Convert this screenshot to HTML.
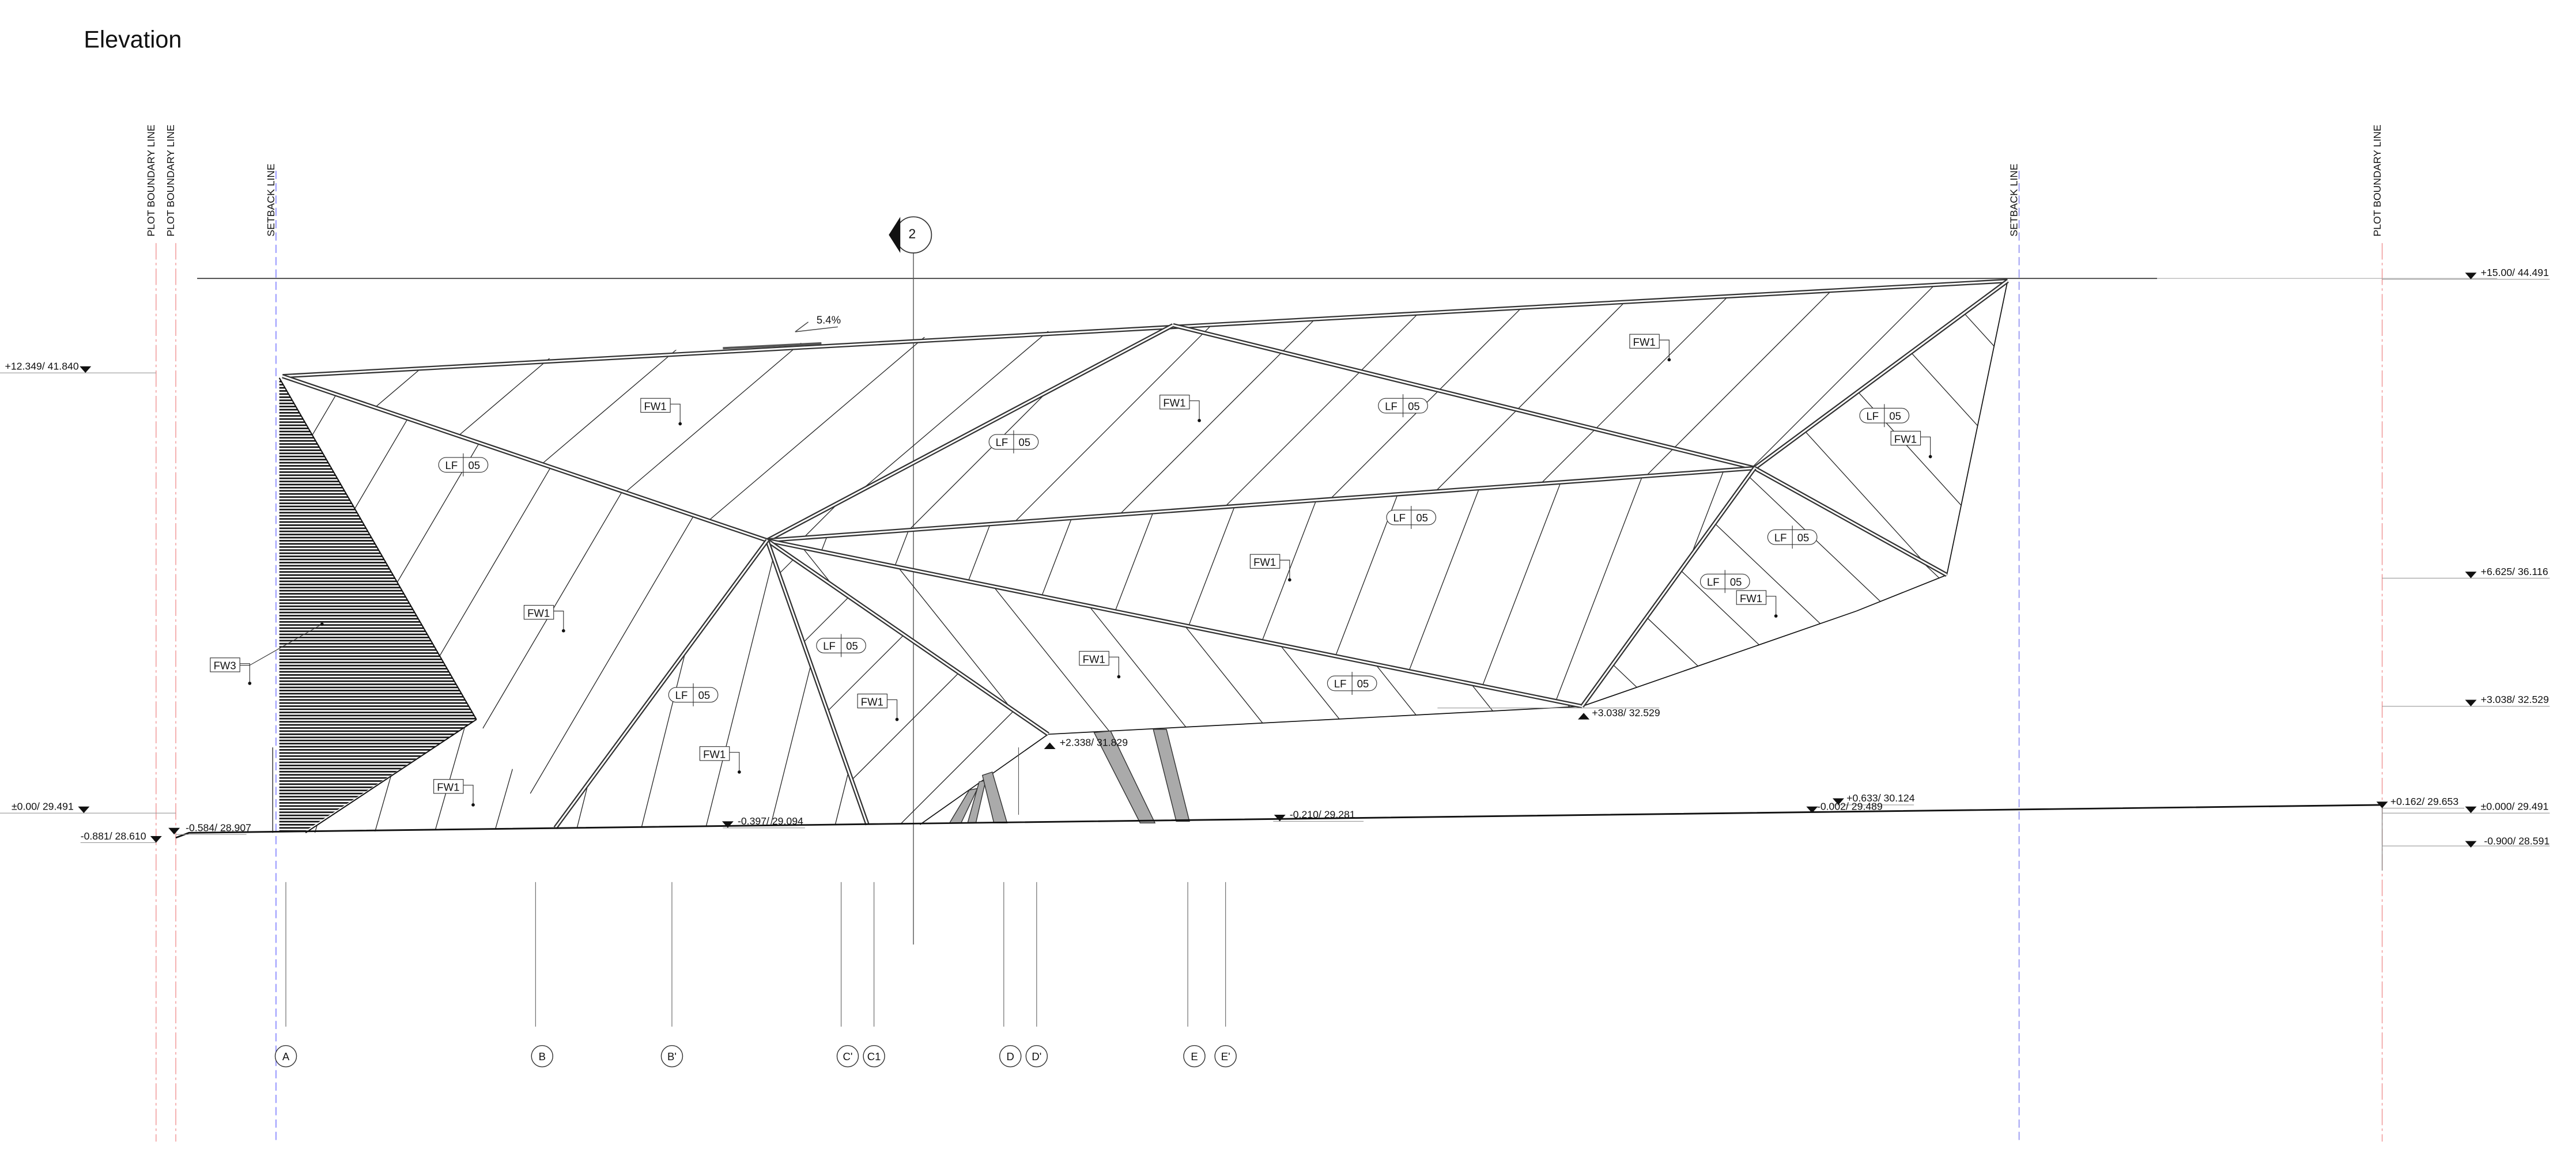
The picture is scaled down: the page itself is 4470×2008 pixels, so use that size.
<!DOCTYPE html>
<html><head><meta charset="utf-8"><style>
html,body{margin:0;padding:0;background:#fff;overflow:hidden;width:4470px;height:2008px;}
svg{display:block;}
text{font-family:"Liberation Sans",sans-serif;fill:#111;}
</style></head><body>
<svg id="s" width="4470" height="2008" viewBox="0 0 1568 704.36" xmlns="http://www.w3.org/2000/svg">
<defs>
<pattern id="hatch" width="4" height="1.9" patternUnits="userSpaceOnUse"><line x1="0" y1="0.5" x2="4" y2="0.5" stroke="#111" stroke-width="0.95"/></pattern>
</defs>
<rect width="1568" height="704" fill="#fff"/>
<text x="51" y="29" font-size="14.5">Elevation</text>

<g stroke-width="0.45" fill="none">
<line x1="95" y1="148" x2="95" y2="695" stroke="#e88" stroke-dasharray="10,2,1.5,2"/>
<line x1="107" y1="148" x2="107" y2="695" stroke="#e88" stroke-dasharray="10,2,1.5,2"/>
<line x1="168" y1="104" x2="168" y2="695" stroke="#6060ff" stroke-dasharray="5,2.5"/>
<line x1="1229" y1="104" x2="1229" y2="695" stroke="#7070ee" stroke-dasharray="5,2.5"/>
<line x1="1450" y1="148" x2="1450" y2="695" stroke="#e88" stroke-dasharray="10,2,1.5,2"/>
</g>
<g font-size="6.2">
<text transform="translate(94,144) rotate(-90)">PLOT BOUNDARY LINE</text>
<text transform="translate(106,144) rotate(-90)">PLOT BOUNDARY LINE</text>
<text transform="translate(167,144) rotate(-90)">SETBACK LINE</text>
<text transform="translate(1228,144) rotate(-90)">SETBACK LINE</text>
<text transform="translate(1449,144) rotate(-90)">PLOT BOUNDARY LINE</text>
</g>

<line x1="120" y1="169.5" x2="1313" y2="169.5" stroke="#333" stroke-width="0.6"/>
<line x1="1313" y1="169.5" x2="1520" y2="169.5" stroke="#aaa" stroke-width="0.4"/>

<line x1="556" y1="132" x2="556" y2="575" stroke="#555" stroke-width="0.5"/>
<circle cx="556" cy="143" r="11" fill="#fff" stroke="#333" stroke-width="0.6"/>
<path d="M541,143 L548,132 L548,154 Z" fill="#111"/>
<text x="553" y="145" font-size="8">2</text>

<polygon points="170,230 290,438 184,507 170,507" fill="url(#hatch)"/>
<line x1="166" y1="455" x2="166" y2="507" stroke="#333" stroke-width="0.5"/>

<g id="panels"></g>

<g fill="#aaa" stroke="#333" stroke-width="0.5">
<polygon points="590,481 595,480 585,501 578,501"/>
<polygon points="596,476 600,475 594,501 589,501"/>
<polygon points="598,472 604,470 613,501 605,501"/>
<polygon points="666,446 676,445 703,501 694,501"/>
<polygon points="702,444 710,444 724,500 716,500"/>
</g>
<line x1="620" y1="455" x2="620" y2="496" stroke="#555" stroke-width="0.4"/>

<polyline points="107,510 115,507 1450,490" fill="none" stroke="#111" stroke-width="1"/>
<line x1="1450" y1="490" x2="1450" y2="530" stroke="#777" stroke-width="0.4"/>

<g font-size="6.2" id="lv"></g>
<g id="grid" font-size="6.5"></g>
<g id="tags" font-size="6.5"></g>

<path d="M484,202 L510,199 M484,202 L492,196" stroke="#444" stroke-width="0.5" fill="none"/>
<text x="497" y="197" font-size="6.5">5.4%</text>
</svg>
<script>
var NS="http://www.w3.org/2000/svg";
function el(p,t,a){var e=document.createElementNS(NS,t);for(var k in a)e.setAttribute(k,a[k]);p.appendChild(e);return e;}
var P=document.getElementById('panels');
var defs=document.querySelector('defs');
var cid=0;
function clipSeg(x0,y0,dx,dy,bx0,by0,bx1,by1){
 var t0=-1e9,t1=1e9;
 var p=[-dx,dx,-dy,dy],q=[x0-bx0,bx1-x0,y0-by0,by1-y0];
 for(var i=0;i<4;i++){if(Math.abs(p[i])<1e-9){if(q[i]<0)return null;}else{var r=q[i]/p[i];if(p[i]<0){if(r>t0)t0=r;}else{if(r<t1)t1=r;}}}
 if(t0>t1)return null;return [x0+dx*t0,y0+dy*t0,x0+dx*t1,y0+dy*t1];
}
function panel(pts,dx,dy,sp,off){
 var id='c'+(cid++);var cp=el(defs,'clipPath',{id:id});
 el(cp,'polygon',{points:pts.map(function(p){return p.join(',')}).join(' ')});
 var g=el(P,'g',{'clip-path':'url(#'+id+')'});
 var L=Math.hypot(dx,dy);dx/=L;dy/=L;var nx=-dy,ny=dx;
 var cx=0,cy=0,bx0=1e9,by0=1e9,bx1=-1e9,by1=-1e9;
 pts.forEach(function(p){cx+=p[0];cy+=p[1];bx0=Math.min(bx0,p[0]);by0=Math.min(by0,p[1]);bx1=Math.max(bx1,p[0]);by1=Math.max(by1,p[1]);});
 cx/=pts.length;cy/=pts.length;
 for(var i=-30;i<=30;i++){var ox=cx+nx*(i*sp+(off||0)),oy=cy+ny*(i*sp+(off||0));
  var s=clipSeg(ox,oy,dx,dy,bx0,by0,bx1,by1);if(!s)continue;
  el(g,'line',{x1:s[0],y1:s[1],x2:s[2],y2:s[3],stroke:'#222','stroke-width':0.45});}
}
var A=[467,329],TL=[172,229],P1=[714,198],TR=[1222,171],P2=[1068,285],P3=[1185,350],P4=[963,430],P5=[638,447],H=[290,438],G1=[338,504],G2=[528,502];
panel([TL,[442,211],P1,A],1,-0.85,46,0);
panel([[170,230],TL,A,G1,H],1,-1.7,45,10);
panel([A,P1,TR,P2],1,-1,42,0);
panel([A,P2,P4],1,-2.6,45,0);
panel([A,P4,P5],1,1.25,38,0);
panel([P2,P3,[1130,372],P4],1,0.95,35,0);
panel([P2,TR,P3],1,1.1,40,0);
panel([A,P5,[560,502],G2],1,-1,40,0);
panel([A,G1,G2],1,-4,38,0);
panel([H,G1,[186,507]],1,-3.5,35,0);
function line(a,b,w,c){el(P,'line',{x1:a[0],y1:a[1],x2:b[0],y2:b[1],stroke:c||'#111','stroke-width':w||0.6});}
function dbl(a,b){line(a,b,2.6,'#333');line(a,b,1.0,'#fff');}
line(H,[186,507],0.7);
line(P5,P4,0.6);line(P3,TR,0.6);line(P4,[1130,372],0.6);line([1130,372],P3,0.6);
line(P5,[560,502],0.6);
line([170,230],H,0.7);
dbl(TL,TR);dbl(TL,A);dbl(A,P1);dbl(P1,P2);dbl(TR,P2);dbl(A,P2);dbl(P2,P3);dbl(A,P4);dbl(P2,P4);dbl(A,P5);dbl(A,G2);dbl(A,G1);
line([440,212],[500,209],1.4,'#555');
var LV=document.getElementById('lv');
function tri(x,y,up){el(LV,'path',{d:up?'M'+(x-3.5)+','+(y)+' L'+(x+3.5)+','+y+' L'+x+','+(y-4)+'Z':'M'+(x-3.5)+','+(y-4)+' L'+(x+3.5)+','+(y-4)+' L'+x+','+y+'Z',fill:'#111'});}
function lv(tx,ty,s,x1,x2,ly,tx2,up){var t=el(LV,'text',{x:tx,y:ty});t.textContent=s;if(x1!=null)el(LV,'line',{x1:x1,y1:ly,x2:x2,y2:ly,stroke:'#999','stroke-width':0.4});if(tx2!=null)tri(tx2,ty+2,up);}
lv(3,225,'+12.349/ 41.840',0,95,227,52);
lv(7,493,'±0.00/ 29.491',0,107,495,51);
lv(49,511,'-0.881/ 28.610',49,95,513,95);
lv(113,506,'-0.584/ 28.907',107,150,508,106);
lv(449,502,'-0.397/ 29.094',440,490,504,443);
lv(785,498,'-0.210/ 29.281',775,830,500,779);
lv(1124,488,'+0.633/ 30.124',1115,1165,490,1119);
lv(1106,493,'-0.002/ 29.489',null,null,0,1103);
lv(645,454,'+2.338/ 31.829',null,null,0,639,true);
lv(969,436,'+3.038/ 32.529',875,1010,431,964,true);
lv(1455,490,'+0.162/ 29.653',1450,1500,492,1450);
lv(1510,168,'+15.00/ 44.491',1450,1552,170,1504);
lv(1510,350,'+6.625/ 36.116',1450,1552,352,1504);
lv(1510,428,'+3.038/ 32.529',1450,1552,430,1504);
lv(1510,493,'±0.000/ 29.491',1450,1552,495,1504);
lv(1512,514,'-0.900/ 28.591',1450,1552,515,1504);
var G=document.getElementById('grid');
[['A',174],['B',330],["B'",409],["C'",516],['C1',532],['D',615],["D'",631],['E',727],["E'",746]].forEach(function(g,i){
 var x=g[1];el(G,'line',{x1:x+(i%2?-4:0),y1:537,x2:x+(i%2?-4:0),y2:625,stroke:'#666','stroke-width':0.4});
 el(G,'circle',{cx:x,cy:643,r:6.5,fill:'#fff',stroke:'#333','stroke-width':0.5});
 var t=el(G,'text',{x:x,y:645.5,'text-anchor':'middle'});t.textContent=g[0];});
var T=document.getElementById('tags');
function fw(x,y,s){el(T,'rect',{x:x,y:y-4.5,width:18,height:8.5,fill:'#fff',stroke:'#333','stroke-width':0.4});var t=el(T,'text',{x:x+2,y:y+2.5});t.textContent=s||'FW1';
 el(T,'polyline',{points:(x+18)+','+(y-1)+' '+(x+24)+','+(y-1)+' '+(x+24)+','+(y+11),fill:'none',stroke:'#333','stroke-width':0.4});el(T,'circle',{cx:x+24,cy:y+11,r:1,fill:'#111'});}
function lf(x,y){el(T,'rect',{x:x,y:y-4.5,width:30,height:9,rx:4.5,fill:'#fff',stroke:'#333','stroke-width':0.4});el(T,'line',{x1:x+15,y1:y-7,x2:x+15,y2:y+7,stroke:'#333','stroke-width':0.4});
 var t=el(T,'text',{x:x+4,y:y+2.5});t.textContent='LF';t=el(T,'text',{x:x+18,y:y+2.5});t.textContent='05';}
[[390,247],[706,245],[992,208],[1151,267],[761,342],[319,373],[657,401],[522,427],[426,459],[264,479],[1057,364]].forEach(function(p){fw(p[0],p[1]);});
fw(128,405,'FW3');el(T,'polyline',{points:'146,405 152,405 196,380',fill:'none',stroke:'#333','stroke-width':0.4});el(T,'circle',{cx:196,cy:380,r:1,fill:'#111'});
[[267,283],[602,269],[839,247],[844,315],[1132,253],[1076,327],[1035,354],[497,393],[407,423],[808,416]].forEach(function(p){lf(p[0],p[1]);});
</script>
</body></html>
